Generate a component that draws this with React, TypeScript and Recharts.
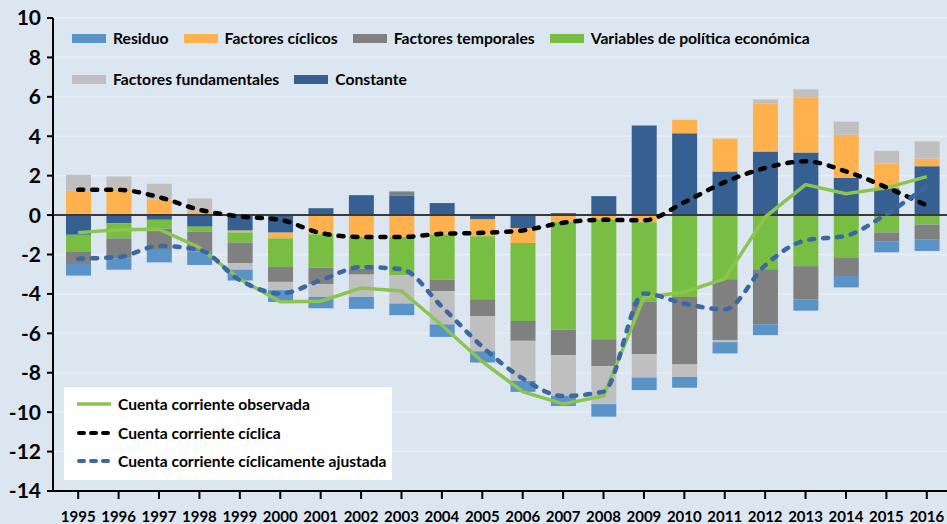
import React from 'react';
import { ComposedChart, Bar, Line, XAxis, YAxis, CartesianGrid, ReferenceLine } from 'recharts';

const YEARS = ['1995', '1996', '1997', '1998', '1999', '2000', '2001', '2002', '2003', '2004', '2005',
  '2006', '2007', '2008', '2009', '2010', '2011', '2012', '2013', '2014', '2015', '2016'];

// bar components (stacked from zero outward in this order)
const CONSTANTE = [-1.0, -0.42, -0.24, -0.59, -0.79, -0.89, 0.35, 1.01, 1.0, 0.61, -0.22, -0.66, 0.1, 0.96, 4.54, 4.15, 2.21, 3.22, 3.18, 1.89, 1.36, 2.48];
const CICLICOS = [1.23, 1.28, 0.78, 0.17, -0.09, -0.29, -0.98, -1.11, -1.11, -0.98, -0.85, -0.76, -0.35, -0.22, -0.36, 0.69, 1.67, 2.43, 2.77, 2.19, 1.25, 0.39];
const POLITICA = [-0.84, -0.76, -0.45, -0.25, -0.52, -1.45, -1.69, -1.61, -1.96, -2.29, -3.2, -3.95, -5.46, -6.08, -4.02, -4.16, -3.26, -2.75, -2.59, -2.18, -0.88, -0.48];
const TEMPORALES = [-0.64, -1.01, -1.08, -1.02, -1.03, -0.76, -0.84, -0.3, 0.2, -0.59, -0.85, -1.01, -1.3, -1.37, -2.68, -3.42, -3.09, -2.79, -1.7, -0.91, -0.47, -0.77];
const FUNDAMENTALES = [0.81, 0.68, 0.81, 0.67, -0.34, -0.42, -0.64, -1.13, -1.42, -1.69, -1.79, -2.03, -2.06, -1.92, -1.18, -0.63, -0.1, 0.22, 0.43, 0.66, 0.65, 0.87];
const RESIDUO = [-0.59, -0.58, -0.63, -0.67, -0.55, -0.6, -0.58, -0.61, -0.59, -0.63, -0.57, -0.56, -0.52, -0.64, -0.64, -0.55, -0.57, -0.55, -0.56, -0.58, -0.54, -0.57];

// lines
const OBSERVADA = [-0.89, -0.74, -0.72, -1.65, -3.25, -4.4, -4.37, -3.7, -3.85, -5.59, -7.44, -8.96, -9.58, -9.18, -4.19, -3.9, -3.23, -0.1, 1.55, 1.08, 1.38, 1.95];
const CICLICA = [1.28, 1.28, 0.91, 0.27, -0.07, -0.24, -0.91, -1.11, -1.11, -0.95, -0.9, -0.78, -0.39, -0.24, -0.27, 0.65, 1.67, 2.39, 2.73, 2.22, 1.41, 0.49];
const AJUSTADA = [-2.21, -2.13, -1.57, -1.76, -3.3, -3.98, -3.31, -2.64, -2.75, -4.65, -6.68, -8.29, -9.18, -8.96, -3.98, -4.49, -4.79, -2.55, -1.28, -1.05, 0.05, 1.46];

const Y_TICKS = [-14, -12, -10, -8, -6, -4, -2, 0, 2, 4, 6, 8, 10];

const data = YEARS.map((year, i) => ({
  year,
  constante: CONSTANTE[i],
  ciclicos: CICLICOS[i],
  politica: POLITICA[i],
  temporales: TEMPORALES[i],
  fundamentales: FUNDAMENTALES[i],
  residuo: RESIDUO[i],
  observada: OBSERVADA[i],
  ciclica: CICLICA[i],
  ajustada: AJUSTADA[i],
}));

const BARS = [
  { key: 'constante', name: 'Constante', color: '#376092' },
  { key: 'ciclicos', name: 'Factores cíclicos', color: '#ffb14e' },
  { key: 'politica', name: 'Variables de política económica', color: '#78be43' },
  { key: 'temporales', name: 'Factores temporales', color: '#808080' },
  { key: 'fundamentales', name: 'Factores fundamentales', color: '#bfbfbf' },
  { key: 'residuo', name: 'Residuo', color: '#5a93c8' },
];

const LEGEND_ROWS = [
  ['residuo', 'ciclicos', 'temporales', 'politica'],
  ['fundamentales', 'constante'],
];

const LINES = [
  { key: 'observada', name: 'Cuenta corriente observada', color: '#8cc451', dash: undefined as string | undefined, type: 'linear' as const },
  { key: 'ciclica', name: 'Cuenta corriente cíclica', color: '#000000', dash: '5 9', type: 'monotone' as const },
  { key: 'ajustada', name: 'Cuenta corriente cíclicamente ajustada', color: '#3a69a2', dash: '5 9', type: 'monotone' as const },
];

const FONT = 'Lato, "Open Sans", sans-serif';

const App: React.FC = () => {
  return (
    <div style={{ position: 'absolute', left: 0, top: 0, width: 947, height: 524, overflow: 'hidden', background: '#dce6f1', fontFamily: FONT }}>
      <ComposedChart
        width={947}
        height={524}
        data={data}
        stackOffset="sign"
        margin={{ top: 18, right: 0, left: 0, bottom: 0 }}
      >
        <CartesianGrid vertical={false} stroke="#e9eef5" strokeWidth={1.5} />
        <XAxis
          dataKey="year"
          interval={0}
          height={33}
          padding={{ left: 5, right: 0 }}
          tickSize={8}
          tickMargin={12}
          axisLine={{ stroke: '#000', strokeWidth: 2 }}
          tickLine={{ stroke: '#000', strokeWidth: 2 }}
          tick={{ fill: '#000', fontSize: 15, fontWeight: 700, fontFamily: FONT }}
        />
        <YAxis
          domain={[-14, 10]}
          ticks={Y_TICKS}
          width={53}
          tickSize={6}
          tickMargin={6}
          axisLine={{ stroke: '#000', strokeWidth: 2 }}
          tickLine={{ stroke: '#000', strokeWidth: 2 }}
          tick={{ fill: '#000', fontSize: 21, fontWeight: 700, fontFamily: FONT }}
        />
        {BARS.map((b) => (
          <Bar key={b.key} dataKey={b.key} name={b.name} stackId="a" fill={b.color} barSize={25} isAnimationActive={false} />
        ))}
        <ReferenceLine y={0} stroke="#3a3a3a" strokeWidth={2} />
        {LINES.map((l) => (
          <Line
            key={l.key}
            type={l.type}
            dataKey={l.key}
            name={l.name}
            stroke={l.color}
            strokeWidth={l.dash ? 4.5 : 3.5}
            strokeDasharray={l.dash}
            strokeLinecap={l.dash ? 'round' : 'butt'}
            dot={false}
            activeDot={false}
            isAnimationActive={false}
          />
        ))}
      </ComposedChart>

      {/* bar legend */}
      {LEGEND_ROWS.map((row, r) => (
        <div key={r} style={{ position: 'absolute', left: 72, top: 28 + r * 41, display: 'flex', alignItems: 'center', height: 20 }}>
          {row.map((k) => {
            const b = BARS.find((x) => x.key === k)!;
            return (
              <div key={k} style={{ display: 'flex', alignItems: 'center', marginRight: 15 }}>
                <div style={{ width: 34, height: 9, background: b.color, marginRight: 7 }} />
                <span style={{ fontSize: 15.7, fontWeight: 700, color: '#000', whiteSpace: 'nowrap' }}>{b.name}</span>
              </div>
            );
          })}
        </div>
      ))}

      {/* line legend */}
      <div style={{ position: 'absolute', left: 64, top: 387, width: 328, height: 93, background: '#fff' }}>
        {LINES.map((l, i) => (
          <div key={l.key} style={{ position: 'absolute', left: 13, top: 7 + i * 28.5, height: 20, display: 'flex', alignItems: 'center' }}>
            <svg width={34} height={8} style={{ marginRight: 7 }}>
              <line
                x1={l.dash ? 2 : 0}
                x2={l.dash ? 32 : 34}
                y1={4}
                y2={4}
                stroke={l.color}
                strokeWidth={l.dash ? 4 : 3.5}
                strokeDasharray={l.dash ? '5 7' : undefined}
                strokeLinecap={l.dash ? 'round' : 'butt'}
              />
            </svg>
            <span style={{ fontSize: 15.6, fontWeight: 700, color: '#000', whiteSpace: 'nowrap' }}>{l.name}</span>
          </div>
        ))}
      </div>
    </div>
  );
};

export default App;
